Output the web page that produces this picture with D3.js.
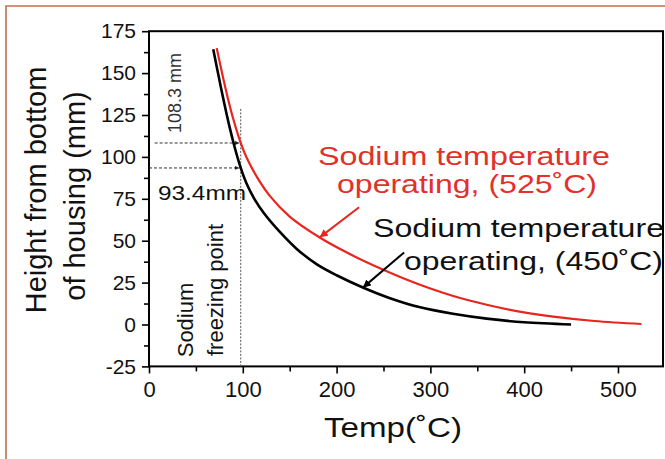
<!DOCTYPE html>
<html>
<head>
<meta charset="utf-8">
<script src="https://cdn.jsdelivr.net/npm/d3@7"></script>
<style>
  html, body { margin: 0; padding: 0; background: #fff; }
  svg { display: block; font-family: "Liberation Sans", Arial, sans-serif; }
</style>
</head>
<body>
<svg id="chart" width="665" height="459"></svg>
<script>
// Liquid sodium level vs. temperature in the housing
const xTicks = [0, 100, 200, 300, 400, 500];
const yTicks = [-25, 0, 25, 50, 75, 100, 125, 150, 175];

// Operating at 450 ˚C (black)
const temp450 = [68.5, 74, 80, 86, 92, 97.8, 104, 112, 122, 140, 157.5, 179, 200, 228, 257, 288, 324, 360, 400, 450];
const height450 = [164.2, 148.8, 132.6, 117.6, 104.4, 93.4, 84.1, 75.3, 66.8, 54.9, 45.1, 35.9, 29.4, 22.1, 15.7, 10.4, 6.4, 3.5, 1.3, 0];

// Operating at 525 ˚C (red)
const temp525 = [72.2, 79, 84, 90, 97.8, 104, 115, 129, 150, 182, 211, 239, 271, 300, 330, 360, 395, 431, 475, 525];
const height525 = [164.9, 147.2, 135.2, 122.3, 108.3, 99.6, 88.1, 76.6, 64.4, 51.9, 42.9, 35.3, 27.6, 21.5, 16.1, 11.8, 7.7, 4.7, 2.1, 0.3];

// Sodium freezing point and the levels reached there
const freezingPoint = 97.8;
const level450 = 93.4;
const level525 = 108.3;

const svg = d3.select("#chart");
const W = 665, H = 459;
const plotL = 149, plotR = 663, plotT = 31.2, plotB = 366.4;

// outer frame of the figure panel
svg.append("path")
  .attr("d", `M6,${H} V6 H${W}`)
  .attr("fill", "none")
  .attr("stroke", "#c0704f")
  .attr("stroke-width", 1.6);

const x = d3.scaleLinear().domain([0, 548]).range([plotL, plotR]);
const y = d3.scaleLinear().domain([-25, 175]).range([plotB, plotT]);
const fmt = d => String(d);   // plain hyphen for negatives

// minor ticks
svg.append("g").attr("transform", `translate(0,${plotB})`)
  .call(d3.axisBottom(x).tickValues(d3.range(50, 500, 100)).tickSize(5).tickFormat(""))
  .call(g => g.select(".domain").remove())
  .call(g => g.selectAll("line").attr("stroke-width", 1.6));
svg.append("g").attr("transform", `translate(${plotL},0)`)
  .call(d3.axisLeft(y).tickValues(d3.range(-12.5, 175, 25)).tickSize(5).tickFormat(""))
  .call(g => g.select(".domain").remove())
  .call(g => g.selectAll("line").attr("stroke-width", 1.6));

// major ticks
svg.append("g").attr("transform", `translate(0,${plotB})`)
  .call(d3.axisBottom(x).tickValues(xTicks).tickSize(7).tickPadding(8).tickFormat(fmt))
  .call(g => g.select(".domain").remove())
  .call(g => g.selectAll("line").attr("stroke-width", 1.6))
  .call(g => g.selectAll("text").attr("font-size", 22).attr("fill", "#111")
    .attr("font-family", "Liberation Sans, Arial, sans-serif"));
svg.append("g").attr("transform", `translate(${plotL},0)`)
  .call(d3.axisLeft(y).tickValues(yTicks).tickSize(7).tickPadding(6).tickFormat(fmt))
  .call(g => g.select(".domain").remove())
  .call(g => g.selectAll("line").attr("stroke-width", 1.6))
  .call(g => g.selectAll("text").attr("font-size", 21).attr("fill", "#111")
    .attr("font-family", "Liberation Sans, Arial, sans-serif"));

// plot frame
svg.append("rect")
  .attr("x", plotL).attr("y", plotT)
  .attr("width", plotR - plotL).attr("height", plotB - plotT)
  .attr("fill", "none").attr("stroke", "#000").attr("stroke-width", 2);

// freezing point guide
svg.append("line")
  .attr("x1", x(freezingPoint)).attr("x2", x(freezingPoint))
  .attr("y1", y(-25)).attr("y2", y(129))
  .attr("stroke", "#555").attr("stroke-width", 1).attr("stroke-dasharray", "2,1.5");

// dimension lines to the two levels
const defs = svg.append("defs");
defs.append("marker").attr("id", "tip").attr("viewBox", "0 0 10 10")
  .attr("refX", 10).attr("refY", 5).attr("markerWidth", 5).attr("markerHeight", 5)
  .attr("orient", "auto")
  .append("path").attr("d", "M0,1 L10,5 L0,9 Z").attr("fill", "#222");

[[6, level525], [0, level450]].forEach(([x0, lv]) => {
  svg.append("line")
    .attr("x1", x(x0)).attr("x2", x(freezingPoint) - 1)
    .attr("y1", y(lv)).attr("y2", y(lv))
    .attr("stroke", "#333").attr("stroke-width", 1).attr("stroke-dasharray", "3,2")
    .attr("marker-end", "url(#tip)");
});

// curves
const line = d3.line().x(d => x(d[0])).y(d => y(d[1])).curve(d3.curveCatmullRom.alpha(0.5));
svg.append("path")
  .datum(d3.zip(temp525, height525))
  .attr("d", line).attr("fill", "none")
  .attr("stroke", "#e8261e").attr("stroke-width", 2.2);
svg.append("path")
  .datum(d3.zip(temp450, height450))
  .attr("d", line).attr("fill", "none")
  .attr("stroke", "#000").attr("stroke-width", 2.6);

// annotation arrows
defs.append("marker").attr("id", "arrRed").attr("viewBox", "0 0 10 10")
  .attr("refX", 10).attr("refY", 5).attr("markerWidth", 4).attr("markerHeight", 4)
  .attr("markerUnits", "strokeWidth").attr("orient", "auto")
  .append("path").attr("d", "M0,0 L10,5 L0,10 Z").attr("fill", "#e8261e");
defs.append("marker").attr("id", "arrBlk").attr("viewBox", "0 0 10 10")
  .attr("refX", 10).attr("refY", 5).attr("markerWidth", 4).attr("markerHeight", 4)
  .attr("markerUnits", "strokeWidth").attr("orient", "auto")
  .append("path").attr("d", "M0,0 L10,5 L0,10 Z").attr("fill", "#000");

svg.append("line")
  .attr("x1", x(224)).attr("y1", y(70))
  .attr("x2", x(182)).attr("y2", y(52))
  .attr("stroke", "#e8261e").attr("stroke-width", 2).attr("marker-end", "url(#arrRed)");
svg.append("line")
  .attr("x1", x(272)).attr("y1", y(43))
  .attr("x2", x(228)).attr("y2", y(22))
  .attr("stroke", "#000").attr("stroke-width", 2).attr("marker-end", "url(#arrBlk)");

// text helper with fixed drawn width
function label(t, px, py, size, width, color, anchor) {
  const el = svg.append("text")
    .attr("x", px).attr("y", py)
    .attr("font-size", size).attr("fill", color)
    .attr("text-anchor", anchor || "start")
    .text(t);
  if (width) el.attr("textLength", width).attr("lengthAdjust", "spacingAndGlyphs");
  return el;
}

label("Sodium temperature", 318, 165, 26, 292, "#e2302a");
label("operating, (525˚C)", 337, 193, 26, 260, "#e2302a");
label("Sodium temperature", 373, 237, 26, 291, "#111");
label("operating, (450˚C)", 404, 270, 26, 259, "#111");
label("93.4mm", 158, 200, 21, 88, "#111");

// rotated labels
function vlabel(t, cx, cy, size, color) {
  return svg.append("text")
    .attr("transform", `translate(${cx},${cy}) rotate(-90)`)
    .attr("text-anchor", "middle")
    .attr("font-size", size).attr("fill", color)
    .text(t);
}
vlabel("108.3 mm", 181, 93, 18, "#333");
vlabel("Sodium", 193, 320, 22, "#111");
vlabel("freezing point", 223, 290, 22, "#111");

vlabel("Height from bottom", 46, 190, 29, "#111");
vlabel("of housing (mm)", 85, 196, 29, "#111");

label("Temp(˚C)", 324, 437, 28, 138, "#111");
</script>
</body>
</html>
